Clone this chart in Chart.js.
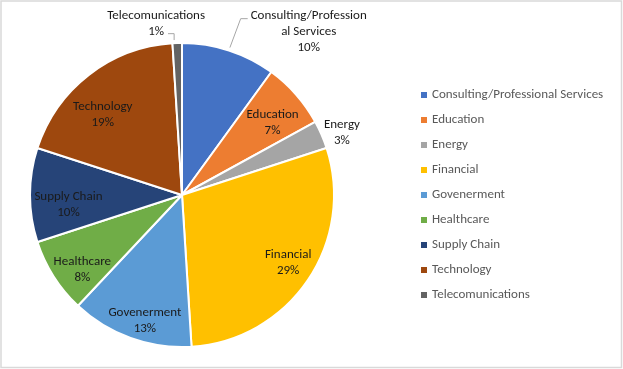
<!DOCTYPE html>
<html><head><meta charset="utf-8">
<script src="https://cdn.jsdelivr.net/npm/chart.js@4/dist/chart.umd.min.js"></script>
<style>html,body{margin:0;padding:0;background:#fff}canvas{display:block}</style>
</head><body>
<canvas id="c" width="623" height="369"></canvas>
<script>
const categories = ['Consulting/Professional Services','Education','Energy','Financial','Govenerment','Healthcare','Supply Chain','Technology','Telecomunications'];
const shares = [10, 7, 3, 29, 13, 8, 10, 19, 1];
const sliceLabels = [['Consulting/Profession','al Services'],['Education'],['Energy'],['Financial'],['Govenerment'],['Healthcare'],['Supply Chain'],['Technology'],['Telecomunications']];
const colors = ['#4472C4','#ED7D31','#A5A5A5','#FFC000','#5B9BD5','#70AD47','#264478','#9E480E','#636363'];

const FONT = 'Carlito, Lato, "Open Sans", sans-serif';
// label placement: radius factor and angle shift (deg) relative to slice middle
const labelPlace = [{f:1.36,d:19.8},{f:0.76,d:3},{f:1.13,d:2},{f:0.83,d:-1.5},{f:0.86,d:-3.3},{f:0.82,d:-4.5},{f:0.75,d:-5},{f:0.74,d:-7},{f:1.14,d:-6.8}];
const leader = {0:'left', 8:'right'};

const labelPlugin = {
  id: 'sliceLabels',
  afterDatasetsDraw(chart) {
    const ctx = chart.ctx;
    const meta = chart.getDatasetMeta(0);
    const total = shares.reduce((a,b)=>a+b,0);
    ctx.save();
    ctx.font = '13px ' + FONT;
    ctx.textAlign = 'center';
    ctx.textBaseline = 'middle';
    meta.data.forEach((arc, i) => {
      const p = arc.getProps(['x','y','startAngle','endAngle','outerRadius'], true);
      const midRaw = (p.startAngle + p.endAngle) / 2;
      const mid = midRaw + labelPlace[i].d * Math.PI / 180;
      const r = p.outerRadius * labelPlace[i].f;
      const lx = p.x + Math.cos(mid) * r, ly = p.y + Math.sin(mid) * r;
      const lines = [...sliceLabels[i], Math.round(shares[i] / total * 100) + '%'];
      const lh = 16;
      const ys = lines.map((t,k) => ly + (k - (lines.length - 1) / 2) * lh);
      ctx.fillStyle = '#1a1a1a';
      lines.forEach((t,k) => ctx.fillText(t, lx, ys[k]));
      if (leader[i]) {
        const sx = p.x + Math.cos(midRaw) * (p.outerRadius + 3);
        const sy = p.y + Math.sin(midRaw) * (p.outerRadius + 3);
        ctx.strokeStyle = '#a6a6a6';
        ctx.lineWidth = 1;
        ctx.beginPath();
        if (leader[i] === 'left') {
          const w = ctx.measureText(lines[0]).width;
          const ex = lx - w / 2 - 3, ey = ys[0] + 3;
          ctx.moveTo(sx, sy); ctx.lineTo(ex - 7, ey); ctx.lineTo(ex, ey);
        } else {
          const last = lines.length - 1;
          const w = ctx.measureText(lines[last]).width;
          const ex = lx + w / 2 + 4, ey = ys[last] + 2;
          ctx.moveTo(ex, ey); ctx.lineTo(sx - 3, ey); ctx.lineTo(sx - 3, sy);
        }
        ctx.stroke();
      }
    });
    ctx.restore();
  }
};

const legendPlugin = {
  id: 'sideLegend',
  afterDraw(chart) {
    const ctx = chart.ctx;
    const ca = chart.chartArea;
    const x0 = ca.right + 86;
    const y0 = 95;
    ctx.save();
    ctx.font = '13px ' + FONT;
    ctx.textBaseline = 'middle';
    ctx.textAlign = 'left';
    categories.forEach((c, i) => {
      const y = y0 + i * 25;
      ctx.fillStyle = colors[i];
      ctx.fillRect(x0, y - 3, 6, 6);
      ctx.fillStyle = '#595959';
      ctx.fillText(c, x0 + 11, y);
    });
    ctx.strokeStyle = '#d9d9d9';
    ctx.lineWidth = 1.5;
    ctx.strokeRect(1, 1, 620.5, 366.5);
    ctx.restore();
  }
};

new Chart(document.getElementById('c'), {
  type: 'pie',
  data: {
    labels: categories,
    datasets: [{
      data: shares,
      backgroundColor: colors,
      borderColor: '#ffffff',
      borderWidth: 2
    }]
  },
  options: {
    responsive: false,
    animation: false,
    layout: { padding: { left: 29, right: 288, top: 42, bottom: 21 } },
    plugins: { legend: { display: false }, tooltip: { enabled: false } }
  },
  plugins: [labelPlugin, legendPlugin]
});
</script>
</body></html>
